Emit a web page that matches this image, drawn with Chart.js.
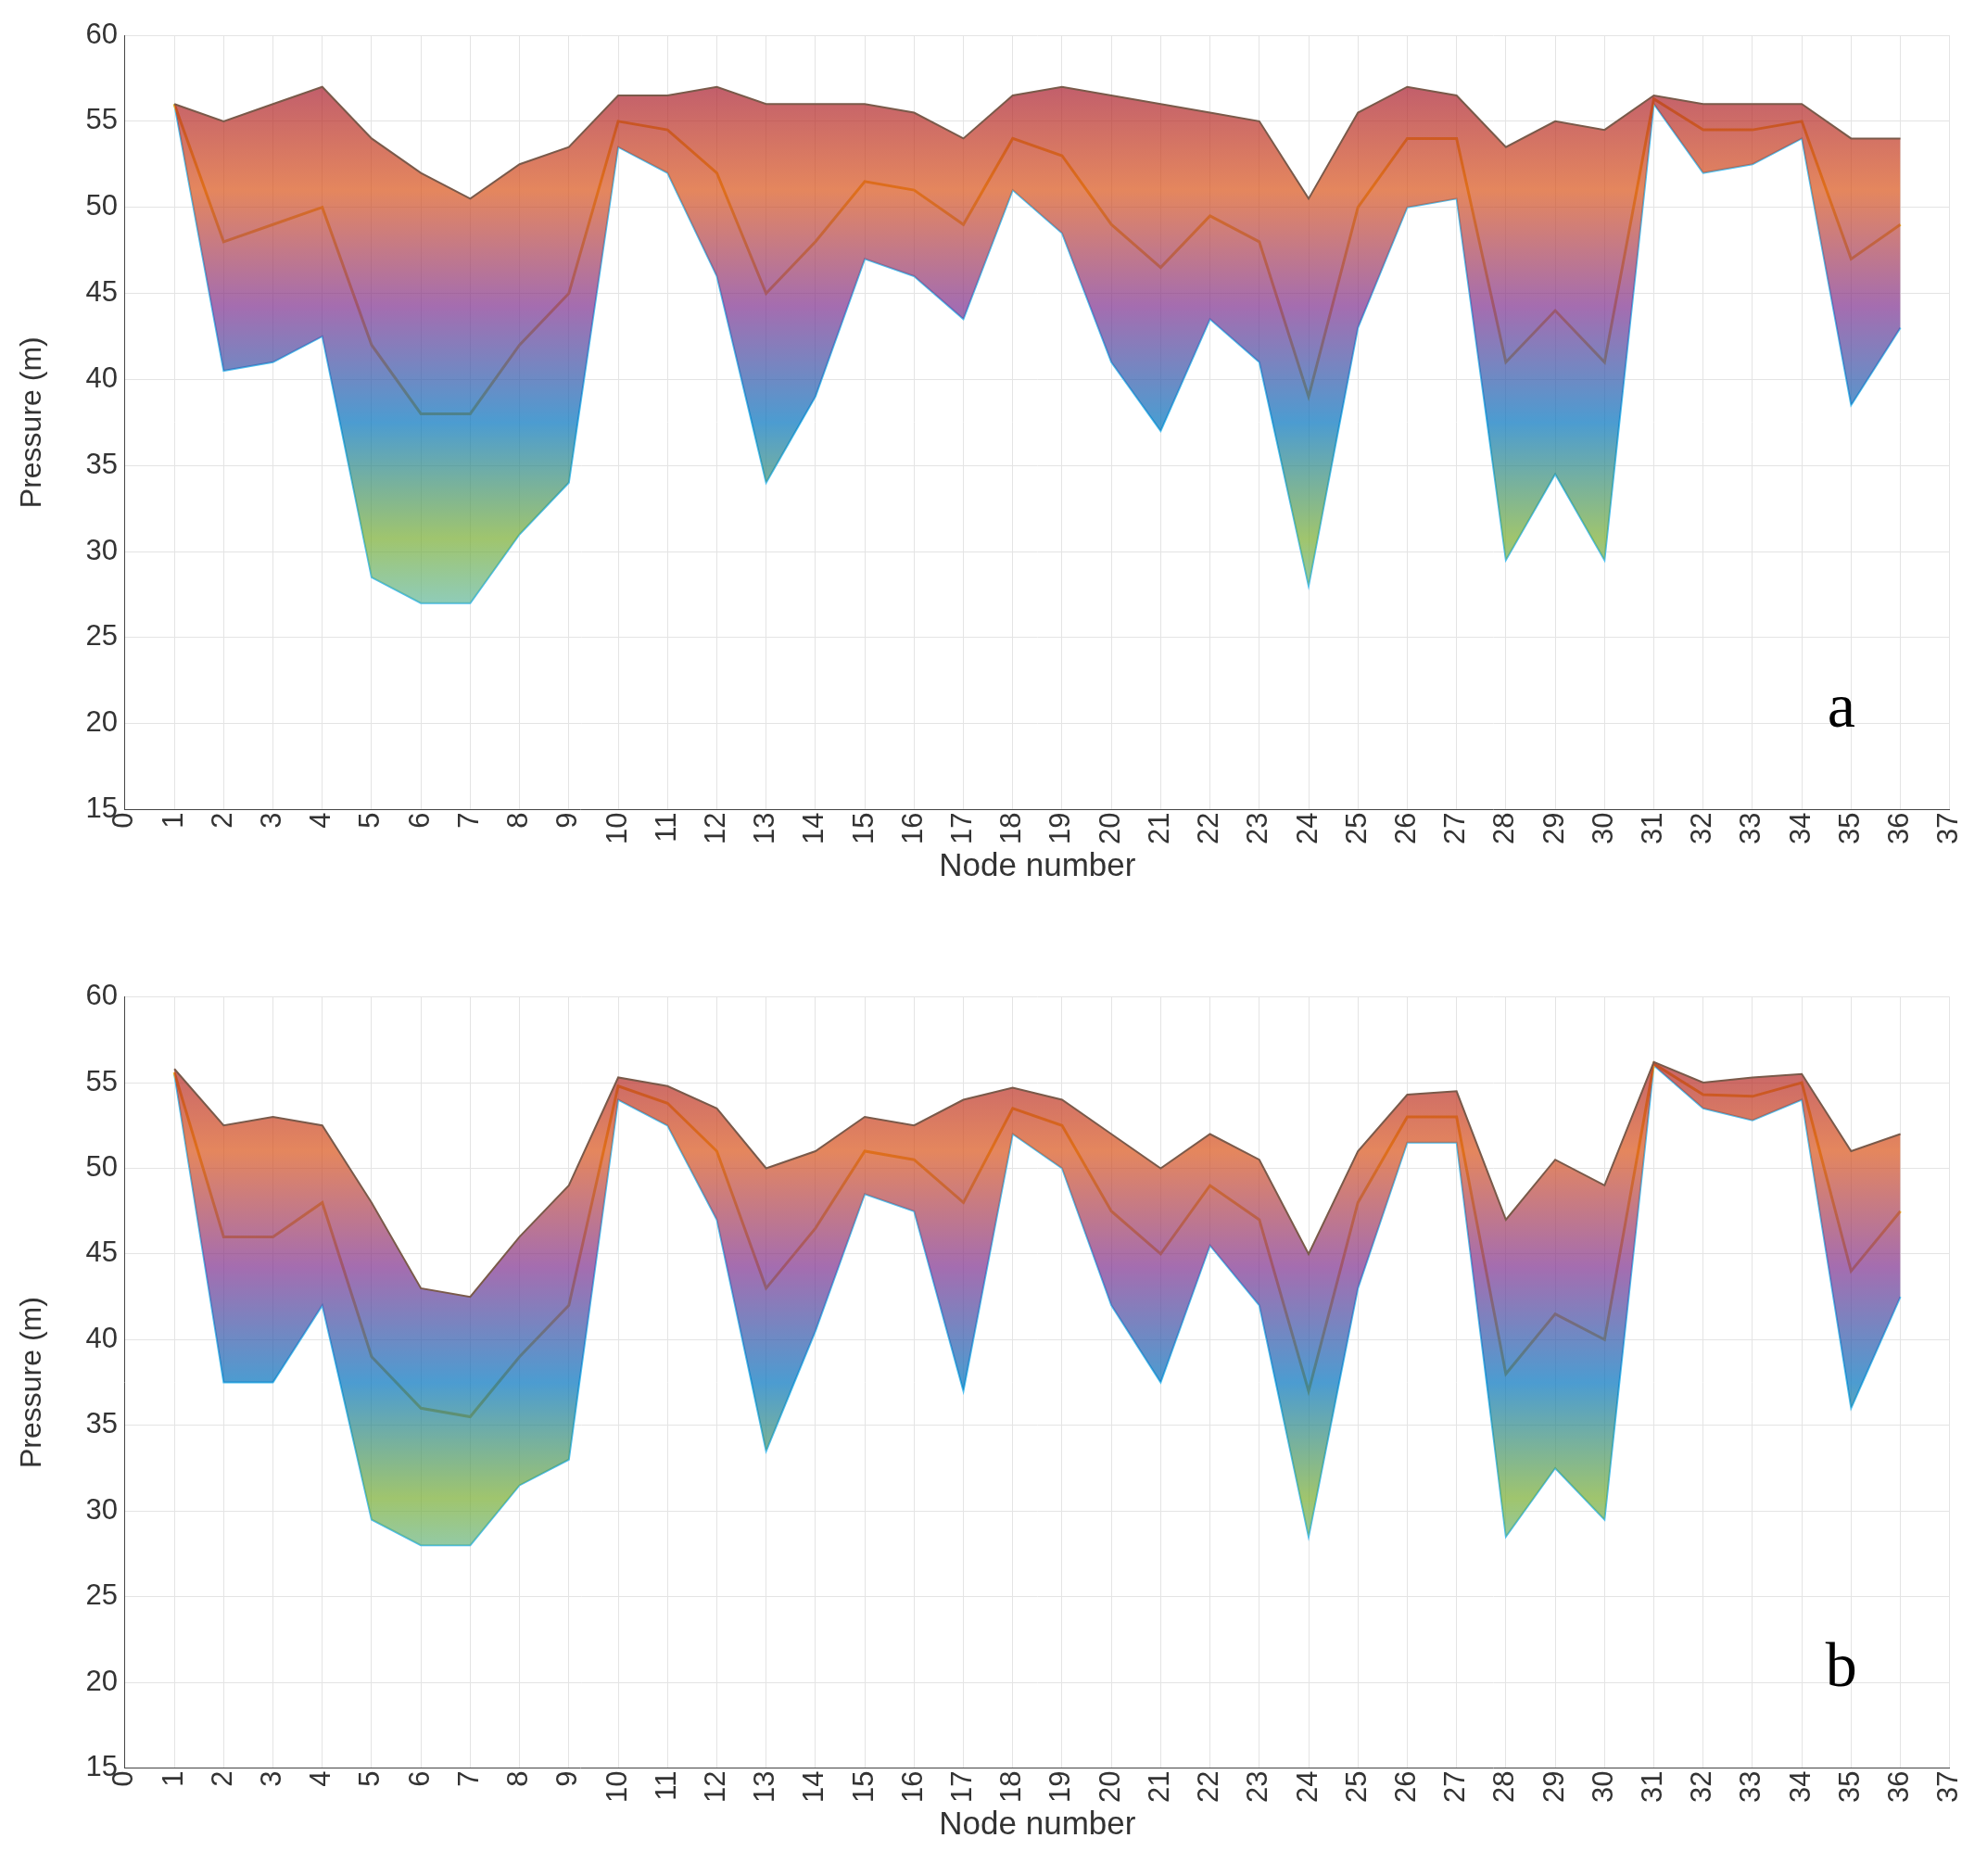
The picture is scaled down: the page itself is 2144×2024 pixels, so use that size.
<!DOCTYPE html>
<html>
<head>
<meta charset="utf-8">
<script src="https://cdn.jsdelivr.net/npm/chart.js@4"></script>
<style>
  body { margin: 0; background: #fff; overflow: hidden; }
  .box { position: absolute; left: 0; width: 2144px; height: 1000px; }
</style>
</head>
<body>
<div class="box" style="top:0"><canvas id="chartA"></canvas></div>
<div class="box" style="top:1049px; height:975px"><canvas id="chartB"></canvas></div>
<script>
// node numbers 1..36
const nodes = [1,2,3,4,5,6,7,8,9,10,11,12,13,14,15,16,17,18,19,20,21,22,23,24,25,26,27,28,29,30,31,32,33,34,35,36];

// panel a: envelope of the pressure ensemble
const upperA = [56,55,56,57,54,52,50.5,52.5,53.5,56.5,56.5,57,56,56,56,55.5,54,56.5,57,56.5,56,55.5,55,50.5,55.5,57,56.5,53.5,55,54.5,56.5,56,56,56,54,54];
const midA   = [56,48,49,50,42,38,38,42,45,55,54.5,52,45,48,51.5,51,49,54,53,49,46.5,49.5,48,39,50,54,54,41,44,41,56.3,54.5,54.5,55,47,49];
const lowerA = [56,40.5,41,42.5,28.5,27,27,31,34,53.5,52,46,34,39,47,46,43.5,51,48.5,41,37,43.5,41,28,43,50,50.5,29.5,34.5,29.5,56,52,52.5,54,38.5,43];

// panel b
const upperB = [55.8,52.5,53,52.5,48,43,42.5,46,49,55.3,54.8,53.5,50,51,53,52.5,54,54.7,54,52,50,52,50.5,45,51,54.3,54.5,47,50.5,49,56.2,55,55.3,55.5,51,52];
const midB   = [55.6,46,46,48,39,36,35.5,39,42,54.8,53.8,51,43,46.5,51,50.5,48,53.5,52.5,47.5,45,49,47,37,48,53,53,38,41.5,40,56.1,54.3,54.2,55,44,47.5];
const lowerB = [55.5,37.5,37.5,42,29.5,28,28,31.5,33,54,52.5,47,33.5,40.5,48.5,47.5,37,52,50,42,37.5,45.5,42,28.5,43,51.5,51.5,28.5,32.5,29.5,56,53.5,52.8,54,36,42.5];

const xTicks = [0,1,2,3,4,5,6,7,8,9,10,11,12,13,14,15,16,17,18,19,20,21,22,23,24,25,26,27,28,29,30,31,32,33,34,35,36,37];
const yTicks = [15,20,25,30,35,40,45,50,55,60];

function pts(arr) { return arr.map((v, i) => ({x: nodes[i], y: v})); }

function bandFill(ctx) {
  const chart = ctx.chart;
  const a = chart.chartArea;
  if (!a) return 'rgba(120,90,140,0.6)';
  const g = chart.ctx.createLinearGradient(0, a.top, 0, a.bottom);
  g.addColorStop(0.05, 'rgba(162,20,47,0.7)');
  g.addColorStop(0.2, 'rgba(217,83,25,0.7)');
  g.addColorStop(0.35, 'rgba(126,47,142,0.7)');
  g.addColorStop(0.5, 'rgba(0,114,189,0.7)');
  g.addColorStop(0.65, 'rgba(119,172,48,0.7)');
  g.addColorStop(0.8, 'rgba(77,190,238,0.7)');
  return g;
}

const letterPlugin = {
  id: 'letter',
  afterDraw(chart, args, opts) {
    const c = chart.ctx;
    c.save();
    c.font = '68px "Liberation Serif"';
    c.fillStyle = '#000';
    c.textAlign = 'center';
    c.fillText(opts.text, chart.scales.x.getPixelForValue(34.8), chart.scales.y.getPixelForValue(19.8));
    c.restore();
  }
};

function makeChart(id, up, mid, lo, letter, pad) {
  return new Chart(document.getElementById(id), {
    type: 'line',
    plugins: [letterPlugin],
    data: {
      datasets: [
        { data: pts(up), borderColor: '#7a5a4a', borderWidth: 2, pointRadius: 0, fill: '+2', backgroundColor: bandFill },
        { data: pts(mid), borderColor: '#edb120', borderWidth: 3, pointRadius: 0, fill: false },
        { data: pts(lo), borderColor: '#4dbeee', borderWidth: 2, pointRadius: 0, fill: false }
      ]
    },
    options: {
      responsive: true,
      maintainAspectRatio: false,
      animation: false,
      layout: { padding: pad },
      plugins: { legend: { display: false }, tooltip: { enabled: false }, letter: { text: letter } },
      scales: {
        x: {
          type: 'linear', min: 0, max: 37,
          afterBuildTicks: s => { s.ticks = xTicks.map(v => ({value: v})); },
          ticks: { minRotation: 90, maxRotation: 90, color: '#333', font: { family: 'Liberation Sans', size: 31 } },
          grid: { color: '#e4e4e4', drawTicks: false },
          border: { color: '#444' },
          title: { display: true, text: 'Node number', color: '#333', font: { family: 'Liberation Sans', size: 35 }, padding: { top: 0 } }
        },
        y: {
          min: 15, max: 60,
          afterBuildTicks: s => { s.ticks = yTicks.map(v => ({value: v})); },
          ticks: { color: '#333', font: { family: 'Liberation Sans', size: 31 }, padding: 8 },
          grid: { color: '#e4e4e4', drawTicks: false },
          border: { color: '#444' },
          title: { display: true, text: 'Pressure (m)', color: '#333', font: { family: 'Liberation Sans', size: 32 }, padding: { bottom: 30 } }
        }
      }
    }
  });
}

makeChart('chartA', upperA, midA, lowerA, 'a', { left: 12, right: 16, top: 38, bottom: 40 });
makeChart('chartB', upperB, midB, lowerB, 'b', { left: 12, right: 16, top: 20, bottom: 30 });
</script>
</body>
</html>
